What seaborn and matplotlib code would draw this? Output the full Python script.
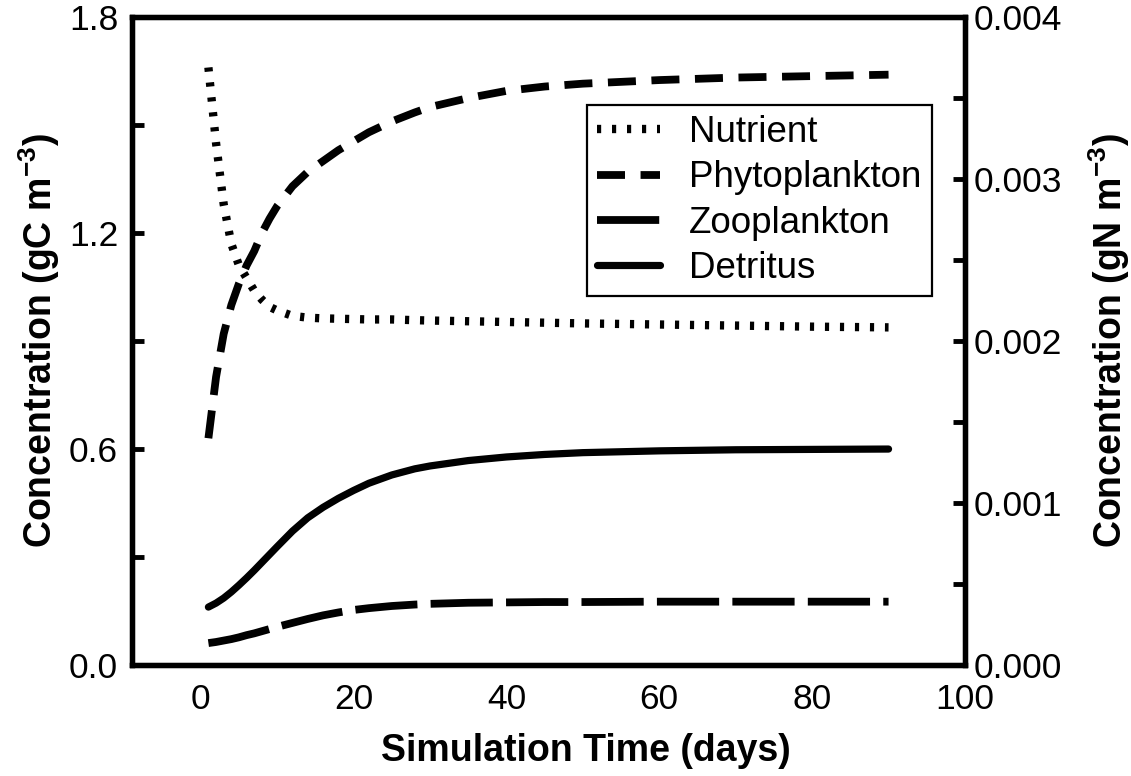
import numpy as np
import pandas as pd
import matplotlib
matplotlib.use("Agg")
import matplotlib.pyplot as plt
import seaborn as sns
from matplotlib.ticker import MultipleLocator, FormatStrFormatter

# ---------------- data ----------------
time_days = [1, 2, 3, 4, 5, 6, 7, 8, 9, 10, 12, 14, 16, 18, 20, 22, 25, 28,
             30, 35, 40, 45, 50, 60, 70, 80, 90]
nutrient = [1.66, 1.45, 1.28, 1.17, 1.11, 1.075, 1.04, 1.015, 0.995, 0.985,
            0.970, 0.965, 0.963, 0.962, 0.961, 0.960, 0.960, 0.958, 0.957,
            0.955, 0.953, 0.951, 0.949, 0.946, 0.943, 0.940, 0.938]
phytoplankton = [0.63, 0.80, 0.92, 1.00, 1.06, 1.11, 1.15, 1.20, 1.24, 1.275,
                 1.33, 1.37, 1.40, 1.43, 1.455, 1.48, 1.51, 1.535, 1.55,
                 1.575, 1.595, 1.607, 1.615, 1.625, 1.632, 1.636, 1.640]
zooplankton = [0.061, 0.064, 0.068, 0.072, 0.077, 0.083, 0.088, 0.094, 0.100,
               0.106, 0.117, 0.128, 0.138, 0.146, 0.153, 0.158, 0.164, 0.168,
               0.170, 0.173, 0.174, 0.175, 0.175, 0.176, 0.176, 0.176, 0.176]
detritus = [0.161, 0.172, 0.186, 0.203, 0.222, 0.242, 0.263, 0.285, 0.307,
            0.329, 0.372, 0.409, 0.438, 0.463, 0.485, 0.505, 0.528, 0.545,
            0.553, 0.568, 0.578, 0.585, 0.590, 0.595, 0.598, 0.599, 0.600]
series_names = ["Nutrient", "Phytoplankton", "Zooplankton", "Detritus"]

x_limits = (-9, 100)
left_limits = (0.0, 1.8)
right_limits = (0.0, 0.004)

# ---------------- style ----------------
sns.set_style("white")
plt.rcParams["font.family"] = ["Liberation Sans", "DejaVu Sans"]
plt.rcParams["mathtext.default"] = "regular"
for key in ("text.color", "axes.labelcolor", "xtick.color", "ytick.color",
            "axes.edgecolor"):
    plt.rcParams[key] = "black"

fig = plt.figure(figsize=(11.31, 7.76), dpi=100)
ax = fig.add_axes([0.1167, 0.1430, 0.7365, 0.8350])

df = pd.DataFrame({
    "t": time_days * 4,
    "value": nutrient + phytoplankton + zooplankton + detritus,
    "series": sum([[n] * len(time_days) for n in series_names], []),
})

styles = {
    "Nutrient": dict(linewidth=6.0, linestyle=(0, (0.5, 1.3))),
    "Phytoplankton": dict(linewidth=5.6, linestyle=(0, (3.6, 2.0))),
    "Zooplankton": dict(linewidth=5.6, linestyle=(0, (8.0, 1.7))),
    "Detritus": dict(linewidth=5.2, linestyle="-", solid_capstyle="round"),
}
for name in series_names:
    sub = df[df["series"] == name]
    sns.lineplot(data=sub, x="t", y="value", ax=ax, color="black",
                 estimator=None, label=name, **styles[name])

ax.set_xlim(*x_limits)
ax.set_ylim(*left_limits)
ax.xaxis.set_major_locator(MultipleLocator(20))
ax.xaxis.set_minor_locator(MultipleLocator(10))
ax.yaxis.set_major_locator(MultipleLocator(0.6))
ax.yaxis.set_minor_locator(MultipleLocator(0.3))
ax.yaxis.set_major_formatter(FormatStrFormatter("%.1f"))

tick_font = 25.5
ax.tick_params(axis="both", which="both", direction="in", length=8.5,
               width=3.5, color="black", labelcolor="black",
               labelsize=tick_font)
ax.tick_params(axis="x", which="major", pad=13)
ax.tick_params(axis="y", which="major", pad=10)
ax.tick_params(top=False, right=False, which="both")

ax.set_xlabel("Simulation Time (days)", fontsize=27, fontweight="bold",
              labelpad=12, color="black")
ax.xaxis.label.set_x(0.545)
ax.set_ylabel("Concentration (gC m$^{-3}$)", fontsize=27, fontweight="bold",
              labelpad=5, color="black")

ax2 = ax.twinx()
ax2.set_ylim(*right_limits)
ax2.yaxis.set_major_locator(MultipleLocator(0.001))
ax2.yaxis.set_minor_locator(MultipleLocator(0.0005))
ax2.yaxis.set_major_formatter(FormatStrFormatter("%.3f"))
ax2.tick_params(axis="y", which="both", direction="in", length=8.5,
                width=3.5, color="black", labelcolor="black",
                labelsize=tick_font, pad=6)
ax2.set_ylabel("Concentration (gN m$^{-3}$)", fontsize=27, fontweight="bold",
               rotation=90, labelpad=18, color="black")

for a in (ax, ax2):
    for sp in a.spines.values():
        sp.set_linewidth(3.8)
        sp.set_color("black")
        sp.set_visible(True)

leg = ax.legend(loc="upper right", bbox_to_anchor=(0.960, 0.864),
                fontsize=26.5, frameon=True, fancybox=False, shadow=False,
                handlelength=1.7, handletextpad=0.8, borderpad=0.27,
                labelspacing=0.28, borderaxespad=0.0)
leg.get_frame().set_edgecolor("black")
leg.get_frame().set_linewidth(1.6)
leg.get_frame().set_alpha(1)
for txt in leg.get_texts():
    txt.set_color("black")

fig.savefig("out.png", dpi=100)
